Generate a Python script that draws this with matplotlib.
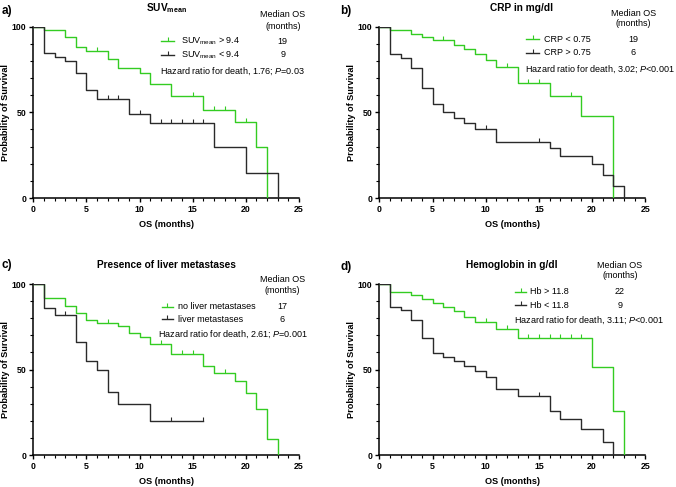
import numpy as np
import matplotlib
matplotlib.use("Agg")
import matplotlib.pyplot as plt

plt.rcParams['font.family'] = ['Liberation Sans', 'DejaVu Sans']
plt.rcParams['mathtext.fontset'] = 'custom'
plt.rcParams['mathtext.rm'] = 'Liberation Sans'
plt.rcParams['mathtext.it'] = 'Liberation Sans:italic'
plt.rcParams['mathtext.bf'] = 'Liberation Sans:bold'

GREEN = '#33cc22'
DARK = '#2a2a2a'

# ---- data (months, % surviving) ----
# a) SUVmean
a_hi_t = [1, 3, 4, 5, 7, 8, 10, 11, 13, 16, 19, 21, 22]
a_hi_s = [97.9, 94.0, 88.2, 85.7, 81.0, 75.7, 73.0, 66.7, 59.5, 51.2, 44.6, 30.0, 0]
a_hi_c = [6, 15, 17, 18, 20]
a_lo_t = [1, 2, 3, 4, 5, 6, 9, 11, 17, 20, 23]
a_lo_s = [84.4, 82.4, 80.2, 73.2, 63.0, 57.6, 49.2, 44.0, 29.8, 14.8, 0]
a_lo_c = [7, 8, 10, 12, 13, 14, 15, 16]

# b) CRP
b_lo_t = [1, 3, 4, 5, 7, 8, 9, 10, 11, 13, 16, 19, 22]
b_lo_s = [98.1, 96.0, 94.2, 92.0, 89.6, 86.7, 83.8, 80.3, 76.7, 67.3, 59.8, 47.8, 0]
b_lo_c = [6, 12, 14, 15, 18]
b_hi_t = [1, 2, 3, 4, 5, 6, 7, 8, 9, 11, 16, 17, 20, 21, 22, 23]
b_hi_s = [84.1, 81.9, 75.8, 64.1, 54.9, 50.1, 46.9, 43.6, 40.3, 32.9, 29.0, 24.8, 19.7, 13.4, 7.0, 0]
b_hi_c = [10, 15]

# c) liver metastases
c_no_t = [1, 3, 4, 5, 6, 8, 9, 10, 11, 13, 16, 17, 19, 20, 21, 22, 23]
c_no_s = [92.1, 87.3, 83.3, 79.2, 77.4, 75.5, 71.5, 69.2, 64.7, 59.0, 52.0, 48.0, 43.3, 36.5, 26.9, 9.1, 0]
c_no_c = [7, 12, 14, 15, 18]
c_yes_t = [1, 2, 4, 5, 6, 7, 8, 11]
c_yes_s = [86.2, 81.6, 66.2, 55.2, 49.5, 37.0, 30.0, 20.0]
c_yes_c = [3, 13, 16]

# d) Hemoglobin
d_hi_t = [1, 3, 4, 5, 6, 7, 8, 9, 11, 13, 20, 22, 23]
d_hi_s = [95.5, 93.6, 91.2, 89.1, 86.5, 84.0, 80.7, 77.6, 73.5, 68.4, 51.2, 25.6, 0]
d_hi_c = [10, 12, 14, 15, 16, 17, 18, 19]
d_lo_t = [1, 2, 3, 4, 5, 6, 7, 8, 9, 10, 11, 13, 16, 17, 19, 21, 22]
d_lo_s = [86.7, 84.6, 78.9, 68.4, 59.6, 57.3, 55.0, 52.2, 49.1, 45.8, 38.4, 34.5, 25.9, 20.9, 15.4, 7.8, 0]
d_lo_c = [15]


def km(ax, t, s, cens, color):
    x = [0] + list(t)
    y = [100] + list(s)
    last = max(list(t) + list(cens))
    if last > x[-1]:
        x.append(last)
        y.append(y[-1])
    ax.step(x, y, where='post', color=color, lw=1.0, zorder=3)
    # censor marks sit on the current survival level
    cy = [y[np.searchsorted(x, c, side='right') - 1] for c in cens]
    ax.plot(cens, cy, ls='none', marker=2, ms=3, mew=0.8, color=color, zorder=3)


def panel(pos, letter, letter_xy, title, title_x, title_y,
          series, labels, medians, hr_text,
          leg_x, leg_y, txt_x, med_x, head_y, hr_xy):
    ax = fig.add_axes(pos)
    for (t, s, c), col in zip(series, [GREEN, DARK]):
        km(ax, t, s, c, col)
    ax.set_xlim(0, 25)
    ax.set_ylim(0, 100)
    ax.set_xticks([0, 5, 10, 15, 20, 25])
    ax.set_xticks(np.arange(0, 26, 1), minor=True)
    ax.set_yticks([0, 50, 100])
    ax.set_yticks(np.arange(0, 101, 10), minor=True)
    for sp in ['top', 'right']:
        ax.spines[sp].set_visible(False)
    for sp in ['left', 'bottom']:
        ax.spines[sp].set_linewidth(1.1)
    ax.tick_params(which='major', direction='out', length=3, width=1.0,
                   labelsize=6.3, pad=2)
    ax.tick_params(which='minor', direction='out', length=2, width=0.8)
    for lb in ax.get_xticklabels() + ax.get_yticklabels():
        lb.set_fontweight('bold')
    ax.set_xlabel('OS (months)', fontsize=6.6, fontweight='bold', labelpad=4)
    ax.set_ylabel('Probability of Survival', fontsize=6.6, fontweight='bold', labelpad=1.5)
    ax.text(title_x, title_y, title, transform=ax.transAxes, ha='center', va='center',
            fontsize=7.3, fontweight='bold')
    fig.text(letter_xy[0], letter_xy[1], letter, fontsize=8.5, fontweight='bold',
             ha='left', va='center')
    # legend block
    tr = ax.transAxes
    ax.text(med_x, head_y[0], 'Median OS', transform=tr, ha='center', va='center', fontsize=6.5)
    ax.text(med_x, head_y[1], '(months)', transform=tr, ha='center', va='center', fontsize=6.5)
    for yy, lab, med, col in zip(leg_y, labels, medians, [GREEN, DARK]):
        ax.plot(leg_x, [yy, yy], transform=tr, color=col, lw=1.0, clip_on=False)
        ax.plot([np.mean(leg_x)], [yy], transform=tr, marker=2, ms=3, mew=0.8,
                color=col, clip_on=False)
        ax.text(txt_x, yy, lab, transform=tr, ha='left', va='center', fontsize=6.5)
        ax.text(med_x, yy, med, transform=tr, ha='center', va='center', fontsize=6.5)
    ax.text(hr_xy[0], hr_xy[1], hr_text, transform=tr, ha='left', va='center', fontsize=6.5)
    return ax


fig = plt.figure(figsize=(6.76, 4.87), dpi=100)

panel([0.0493, 0.5934, 0.3930, 0.3518], 'a)', (0.002, 0.978),
      r'SUV$_{\mathbf{mean}}$', 0.50, 1.11,
      [(a_hi_t, a_hi_s, a_hi_c), (a_lo_t, a_lo_s, a_lo_c)],
      [r'SUV$_{\mathrm{mean}}$ > 9.4', r'SUV$_{\mathrm{mean}}$ < 9.4'], ['19', '9'],
      r'Hazard ratio for death, 1.76; $P$=0.03',
      [0.481, 0.531], [0.916, 0.835], 0.555, 0.939, [1.069, 1.004], [0.477, 0.741])

panel([0.5611, 0.5934, 0.3935, 0.3518], 'b)', (0.503, 0.978),
      'CRP in mg/dl', 0.533, 1.107,
      [(b_lo_t, b_lo_s, b_lo_c), (b_hi_t, b_hi_s, b_hi_c)],
      ['CRP < 0.75', 'CRP > 0.75'], ['19', '6'],
      r'Hazard ratio for death, 3.02; $P$<0.001',
      [0.552, 0.602], [0.928, 0.848], 0.620, 0.955, [1.078, 1.016], [0.547, 0.753])

panel([0.0493, 0.0657, 0.3930, 0.3511], 'c)', (0.002, 0.455),
      'Presence of liver metastases', 0.50, 1.111,
      [(c_no_t, c_no_s, c_no_c), (c_yes_t, c_yes_s, c_yes_c)],
      ['no liver metastases', 'liver metastases'], ['17', '6'],
      r'Hazard ratio for death, 2.61; $P$=0.001',
      [0.483, 0.525], [0.867, 0.794], 0.546, 0.938, [1.029, 0.961], [0.470, 0.703])

panel([0.5611, 0.0657, 0.3935, 0.3511], 'd)', (0.503, 0.451),
      'Hemoglobin in g/dl', 0.498, 1.111,
      [(d_hi_t, d_hi_s, d_hi_c), (d_lo_t, d_lo_s, d_lo_c)],
      ['Hb > 11.8', 'Hb < 11.8'], ['22', '9'],
      r'Hazard ratio for death, 3.11; $P$<0.001',
      [0.512, 0.553], [0.955, 0.875], 0.567, 0.905, [1.111, 1.047], [0.505, 0.789])

fig.savefig('out.png', dpi=100)
